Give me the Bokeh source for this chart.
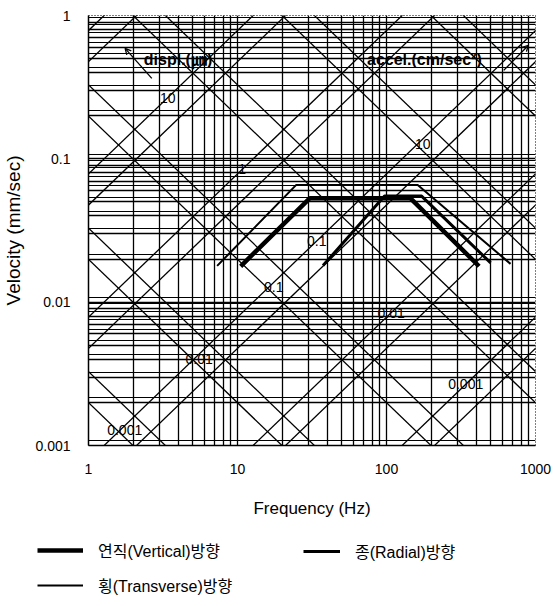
import numpy as np
from bokeh.plotting import figure
from bokeh.layouts import column
from bokeh.models import (Range1d, FixedTicker, Grid, Legend, LegendItem, Arrow,
                          OpenHead, Label, CustomJSTickFormatter)
from bokeh.core.properties import value
from bokeh.embed import file_html
from bokeh.resources import INLINE

# ---------------- data ----------------
freq_ticks = [1, 10, 100, 1000]
vel_ticks = [0.001, 0.01, 0.1, 1]

vertical_f = [10.5, 30.5, 145, 418]
vertical_v = [0.0178, 0.053, 0.053, 0.0178]
radial_f = [37.5, 97, 172, 500]
radial_v = [0.018, 0.055, 0.055, 0.0188]
transverse_f = [7.3, 24.7, 162, 680]
transverse_v = [0.0179, 0.0656, 0.0656, 0.0185]

disp_um = [0.0001, 0.001, 0.01, 0.1, 1, 10, 100, 1000]        # displacement lines (um)
accel_cms2 = [0.0001, 0.001, 0.01, 0.1, 1, 10, 100, 1000]     # acceleration lines (cm/s^2)
disp_label_vals = [10, 1, 0.1, 0.01, 0.001]
disp_label_txt = ["10", "1", "0.1", "0.01", "0.001"]
accel_label_vals = [0.001, 0.01, 0.1, 10]
accel_label_txt = ["0.001", "0.01", "0.1", "10"]

legend_names = ["연직(Vertical)방향", "종(Radial)방향", "횡(Transverse)방향"]
series_widths = [4.5, 3, 2]

# -------------- helpers ---------------
SHIFT = 1.25   # registration of the printed tripartite grid
GHOST = 1.65   # second, mis-registered copy of the diagonal grid in the print
def v_disp(f, d):
    return SHIFT * 2 * np.pi * np.asarray(f, float) * d / 1000.0
def v_acc(f, a):
    return SHIFT * 10.0 * a / (2 * np.pi * np.asarray(f, float))

FONT = "Liberation Sans, Noto Sans CJK KR"

p = figure(width=554, height=520, x_axis_type="log", y_axis_type="log",
           x_range=Range1d(1, 1000), y_range=Range1d(0.001, 1),
           output_backend="svg", toolbar_location=None,
           min_border_left=83, min_border_right=19, min_border_top=15,
           min_border_bottom=74)
p.frame_align = False
p.background_fill_color = "white"
p.border_fill_color = "white"
p.outline_line_color = "black"
p.outline_line_dash = "1 2"
p.outline_line_width = 1

p.xgrid.visible = False
p.ygrid.visible = False

# log grid (lines at 1..9 in each decade)
minor_f = [m * 10.0 ** k for k in range(0, 3) for m in range(1, 10)] + [1000]
minor_v = [m * 10.0 ** k for k in range(-3, 0) for m in range(1, 10)] + [1]
p.add_layout(Grid(dimension=0, ticker=FixedTicker(ticks=minor_f),
                  grid_line_color="black", grid_line_width=1.3))
p.add_layout(Grid(dimension=1, ticker=FixedTicker(ticks=minor_v),
                  grid_line_color="black", grid_line_width=1.3))
p.add_layout(Grid(dimension=1, ticker=FixedTicker(ticks=[t * 1.08 for t in minor_v]),
                  grid_line_color="black", grid_line_width=1.1))

# tripartite diagonals (main set + ghost set)
fspan = np.array([0.3, 3000.0])
xs, ys = [], []
for k in (1.0, GHOST):
    for d in disp_um:
        xs.append(list(fspan)); ys.append(list(v_disp(fspan, d / k)))
    for a in accel_cms2:
        xs.append(list(fspan)); ys.append(list(v_acc(fspan, a * k)))
p.multi_line(xs, ys, line_color="black", line_width=1.3)

# diagonal labels
dl_f = [3.4 * 10 ** (0.5 * i) for i in range(len(disp_label_vals))]
dl_v = [float(v_disp(f, d)) for f, d in zip(dl_f, disp_label_vals)]
al_idx = [0, 1, 2, 4]
al_f = [1.75 * 10 ** (0.5 * i) for i in al_idx]
al_v = [float(v_acc(f, a)) * 1.12 for f, a in zip(al_f, accel_label_vals)]
p.text(x=dl_f + al_f, y=dl_v + al_v, text=disp_label_txt + accel_label_txt,
       text_font=value("Liberation Sans"), text_font_size="14px",
       text_align="center", text_baseline="middle", text_color="black")

p.add_layout(Label(x=2.35, y=0.49, text="displ.(㎛)", text_font=FONT,
                   text_font_size="16px", text_font_style="bold", text_color="black",
                   text_baseline="middle", text_align="left"))
p.add_layout(Label(x=74, y=0.49, text="accel.(cm/sec²)", text_font=FONT,
                   text_font_size="16px", text_font_style="bold", text_color="black",
                   text_baseline="middle", text_align="left"))
p.add_layout(Arrow(x_start=2.66, y_start=0.364, x_end=1.76, y_end=0.59,
                   line_color="black", line_width=1.3,
                   end=OpenHead(size=6, line_color="black", line_width=1.3)))
p.add_layout(Arrow(x_start=612, y_start=0.414, x_end=897, y_end=0.62,
                   line_color="black", line_width=1.3,
                   end=OpenHead(size=6, line_color="black", line_width=1.3)))

# data
p.line(vertical_f, vertical_v, line_color="black", line_width=series_widths[0])
p.line(radial_f, radial_v, line_color="black", line_width=series_widths[1])
p.line(transverse_f, transverse_v, line_color="black", line_width=series_widths[2])

# axes
fmt = CustomJSTickFormatter(code="return tick.toString();")
for ax, ticks in ((p.xaxis, freq_ticks), (p.yaxis, vel_ticks)):
    ax.ticker = FixedTicker(ticks=ticks)
    ax.formatter = fmt
    ax.major_tick_line_color = None
    ax.minor_tick_line_color = None
    ax.axis_line_color = "black"
    ax.axis_line_width = 1.5
    ax.major_label_text_font = "Liberation Sans"
    ax.major_label_text_font_size = "14px"
    ax.major_label_text_color = "black"
    ax.axis_label_text_font = "Liberation Sans"
    ax.axis_label_text_font_style = "normal"
    ax.axis_label_text_color = "black"
p.xaxis.axis_label = "Frequency (Hz)"
p.yaxis.axis_label = "Velocity (mm/sec)"
p.xaxis.axis_label_text_font_size = "17px"
p.yaxis.axis_label_text_font_size = "19px"
p.xaxis.major_label_standoff = 12
p.yaxis.major_label_standoff = 12
p.xaxis.axis_label_standoff = 22
p.yaxis.axis_label_standoff = 8

# legend strip below the chart (series drawn off-view; only their legend keys show)
lg = figure(width=554, height=86, x_axis_type="log", y_axis_type="log",
            x_range=Range1d(1e6, 1e7), y_range=Range1d(1e6, 1e7),
            x_axis_location=None, y_axis_location=None,
            output_backend="svg", toolbar_location=None,
            min_border=0, min_border_left=0, min_border_right=0,
            min_border_top=0, min_border_bottom=0)
lg.frame_align = False
lg.xgrid.visible = False
lg.ygrid.visible = False
lg.outline_line_color = None
rv = lg.line(vertical_f, vertical_v, line_color="black", line_width=series_widths[0])
rr = lg.line(radial_f, radial_v, line_color="black", line_width=series_widths[1])
rt = lg.line(transverse_f, transverse_v, line_color="black", line_width=series_widths[2])

common = dict(padding=0, margin=0, glyph_height=20, label_height=20,
              label_text_font=FONT, label_text_font_size="16px",
              label_text_color="black",
              background_fill_alpha=0, border_line_color=None)
leg_a = Legend(items=[LegendItem(label=legend_names[0], renderers=[rv]),
                      LegendItem(label=legend_names[2], renderers=[rt])],
               orientation="vertical", location=(37, 9), spacing=11,
               glyph_width=46, label_standoff=15, **common)
leg_b = Legend(items=[LegendItem(label=legend_names[1], renderers=[rr])],
               orientation="vertical", location=(303, 43), spacing=0,
               glyph_width=37, label_standoff=15, **common)
lg.add_layout(leg_a)
lg.add_layout(leg_b)

open("out.html", "w").write(file_html(column(p, lg, spacing=0), INLINE))
